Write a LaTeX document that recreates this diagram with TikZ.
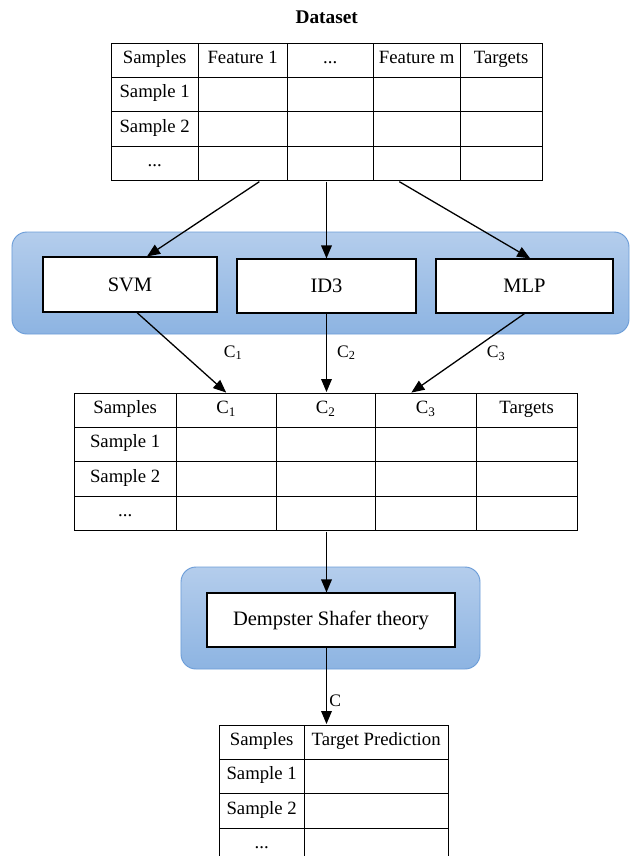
\documentclass[tikz,border=0pt]{standalone}
\usepackage{fontspec}
\setmainfont{Liberation Serif}
\usetikzlibrary{positioning,matrix,arrows.meta}

\definecolor{bandtop}{RGB}{180,205,236}
\definecolor{bandbot}{RGB}{141,180,226}
\definecolor{bandline}{RGB}{108,157,216}

\tikzset{
  tbl/.style={matrix of nodes, nodes in empty cells, inner sep=0pt,
    line width=1pt, row sep=-1pt, column sep=-1pt,
    nodes={draw, anchor=center, inner sep=0pt, minimum height=1.03cm,
      text height=1.6ex, text depth=0.45ex,
      font=\fontsize{16}{18}\selectfont}},
  band/.style={draw=bandline, line width=0.8pt, rounded corners=0.45cm,
    top color=bandtop, bottom color=bandbot, inner sep=0pt},
  box/.style={draw, fill=white, line width=1pt, inner sep=0pt,
    font=\fontsize{17.5}{20}\selectfont},
  arr/.style={line width=1.1pt, -{Triangle[length=0.39cm,width=0.32cm]}},
  lbl/.style={font=\fontsize{15}{18}\selectfont, inner sep=0pt},
  title/.style={font=\bfseries\fontsize{16.5}{19}\selectfont}
}

\begin{document}
\begin{tikzpicture}[x=0.03cm, y=-0.03cm]
    \useasboundingbox (0,0) rectangle (630,856);

    % Draw the dataset table
    \matrix[tbl, anchor=north west,
      column 1/.style={nodes={minimum width=2.61cm}},
      column 2/.style={nodes={minimum width=2.67cm}},
      column 3/.style={nodes={minimum width=2.58cm}},
      column 4/.style={nodes={minimum width=2.61cm}},
      column 5/.style={nodes={minimum width=2.46cm}}] (ds) at (110,42) {
      Samples & Feature 1 & ... & Feature m & Targets \\
      Sample 1 & & & & \\
      Sample 2 & & & & \\
      ... & & & & \\
    };
    \node[title, above=12pt of ds] (dstitle) {Dataset};

    % Draw the band with the three classifiers
    \node[band, minimum width=18.51cm, minimum height=3.06cm] (clsband) at (320.5,283) {};
    \node[box, minimum width=5.22cm, minimum height=1.65cm] (svm) at (130,284.5) {SVM};
    \node[box, minimum width=5.37cm, minimum height=1.62cm] (id3) at (326.5,286) {ID3};
    \node[box, minimum width=5.31cm, minimum height=1.62cm] (mlp) at (524.5,286) {MLP};

    % Draw the arrows from the dataset to the classifiers
    \draw[arr] ([xshift=-2.02cm]ds.south) -- ([xshift=0.51cm]svm.north);
    \draw[arr] (ds.south -| id3.north) -- (id3.north);
    \draw[arr] ([xshift=2.18cm]ds.south) -- ([xshift=0.17cm]mlp.north);

    % Draw the table of the classifier outputs
    \matrix[tbl, anchor=north west,
      column 1/.style={nodes={minimum width=3.06cm}},
      column 2/.style={nodes={minimum width=3.0cm}},
      column 3/.style={nodes={minimum width=2.97cm}},
      column 4/.style={nodes={minimum width=3.03cm}},
      column 5/.style={nodes={minimum width=3.03cm}}] (cmb) at (73,392) {
      Samples & C\textsubscript{1} & C\textsubscript{2} & C\textsubscript{3} & Targets \\
      Sample 1 & & & & \\
      Sample 2 & & & & \\
      ... & & & & \\
    };

    % Draw the arrows from the classifiers to the table
    \draw[arr] ([xshift=0.21cm]svm.south) -- node[lbl, midway, right=1.25cm] {C\textsubscript{1}} (cmb-1-2.north);
    \draw[arr] (id3.south) -- node[lbl, midway, right=0.3cm] {C\textsubscript{2}} (id3.south |- cmb.north);
    \draw[arr] (mlp.south) -- node[lbl, midway, right=0.55cm] {C\textsubscript{3}} ([xshift=-0.43cm]cmb-1-4.north);

    % Draw the Dempster Shafer band
    \node[band, minimum width=8.97cm, minimum height=3.06cm] (dsband) at (330.5,618) {};
    \node[box, minimum width=7.44cm, minimum height=1.62cm] (dst) at (331,620) {Dempster Shafer theory};
    \draw[arr] (cmb.south -| id3.south) -- (dst.north -| id3.south);

    % Draw the prediction table
    \matrix[tbl, anchor=north west,
      column 1/.style={nodes={minimum width=2.55cm}},
      column 2/.style={nodes={minimum width=4.32cm}}] (pred) at (218,724) {
      Samples & Target Prediction \\
      Sample 1 & \\
      Sample 2 & \\
      ... & \\
    };
    \draw[arr] (dst.south -| id3.south) -- node[lbl, pos=0.7, right=2pt] {C} (pred.north -| id3.south);
\end{tikzpicture}
\end{document}
